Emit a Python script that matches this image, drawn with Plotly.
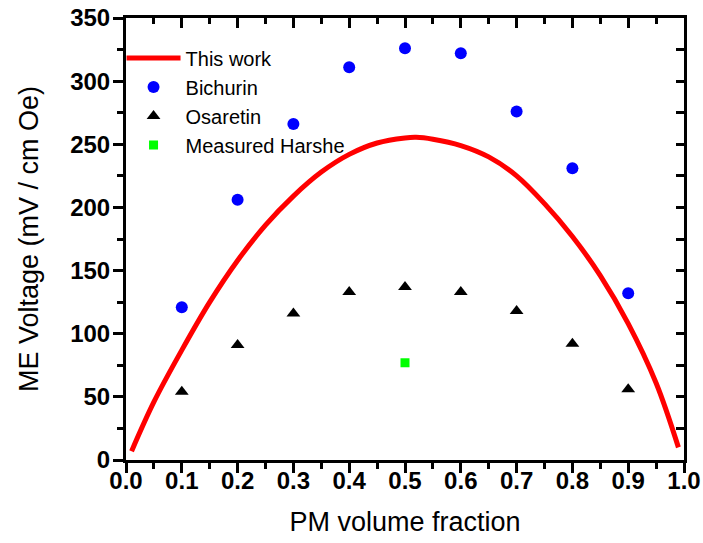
import plotly.graph_objects as go

# Data
pm_fraction = [0.1, 0.2, 0.3, 0.4, 0.5, 0.6, 0.7, 0.8, 0.9]
bichurin = [121, 206, 266, 311, 326, 322, 276, 231, 132]
osaretin = [54, 91, 116, 133, 137, 133, 118, 92, 56]
harshe_x = [0.5]
harshe_y = [77]
work_x = [0.01, 0.05, 0.10, 0.15, 0.20, 0.25, 0.30, 0.35, 0.40, 0.45, 0.50, 0.52,
          0.55, 0.60, 0.65, 0.70, 0.75, 0.80, 0.85, 0.90, 0.95, 0.99]
work_y = [7, 46, 87, 125, 158, 186, 209, 228, 242, 251, 255, 255.5,
          254, 249, 240, 225, 203, 177, 146, 108, 61, 10]
x_ticks = [0.0, 0.1, 0.2, 0.3, 0.4, 0.5, 0.6, 0.7, 0.8, 0.9, 1.0]
y_ticks = [0, 50, 100, 150, 200, 250, 300, 350]

FONT = "Liberation Sans, Arial, sans-serif"

fig = go.Figure()
fig.add_trace(go.Scatter(x=work_x, y=work_y, mode="lines", name="This work",
                         line=dict(color="#ff0000", width=5, shape="spline", smoothing=1.0)))
fig.add_trace(go.Scatter(x=pm_fraction, y=bichurin, mode="markers", name="Bichurin",
                         marker=dict(color="#0000ff", size=12, symbol="circle")))
fig.add_trace(go.Scatter(x=pm_fraction, y=osaretin, mode="markers", name="Osaretin",
                         marker=dict(color="#000000", size=12, symbol="triangle-up")))
fig.add_trace(go.Scatter(x=harshe_x, y=harshe_y, mode="markers", name="Measured Harshe",
                         marker=dict(color="#00ff00", size=9, symbol="square")))

axis_common = dict(showgrid=False, zeroline=False, showline=True, linecolor="black",
                   linewidth=3, tickcolor="black", tickwidth=3, automargin=False)

fig.update_layout(
    width=703, height=543,
    margin=dict(l=126, r=19, t=18, b=83),
    paper_bgcolor="white", plot_bgcolor="white",
    font=dict(family=FONT, color="black"),
    showlegend=True,
    legend=dict(x=-0.008, y=0.9535, xanchor="left", yanchor="top",
                bgcolor="rgba(0,0,0,0)", font=dict(size=20, family=FONT),
                itemwidth=54, tracegroupgap=0),
    xaxis=dict(range=[0, 1], tickvals=x_ticks, ticktext=[f"{v:.1f}" for v in x_ticks],
               ticks="outside", ticklen=10, ticklabelstandoff=-13,
               minor=dict(dtick=0.05, ticks="outside", ticklen=6, tickwidth=3, tickcolor="black"),
               tickfont=dict(size=24, family=FONT, weight="bold"),
               title=dict(text="PM volume fraction", font=dict(size=27, family=FONT), standoff=20),
               **axis_common),
    yaxis=dict(range=[0, 350], tickvals=y_ticks, ticktext=[str(v) for v in y_ticks],
               ticks="outside", ticklen=10, ticklabelstandoff=-2,
               minor=dict(dtick=25, ticks="outside", ticklen=6, tickwidth=3, tickcolor="black"),
               tickfont=dict(size=24, family=FONT, weight="bold"),
               title=dict(text="ME Voltage (mV / cm Oe)", font=dict(size=27, family=FONT), standoff=24),
               **axis_common),
    xaxis2=dict(range=[0, 1], overlaying="x", side="top", tickvals=x_ticks,
                ticks="inside", ticklen=10, showticklabels=False,
                minor=dict(dtick=0.05, ticks="inside", ticklen=6, tickwidth=3, tickcolor="black"),
                **axis_common),
    yaxis2=dict(range=[0, 350], overlaying="y", side="right", tickvals=y_ticks,
                ticks="inside", ticklen=8, showticklabels=False,
                minor=dict(dtick=25, ticks="inside", ticklen=8, tickwidth=3, tickcolor="black"),
                **axis_common),
)
# invisible trace to activate the mirrored axes
fig.add_trace(go.Scatter(x=[None], y=[None], xaxis="x2", yaxis="y2", showlegend=False,
                         hoverinfo="skip"))

fig.write_html("out.html")
